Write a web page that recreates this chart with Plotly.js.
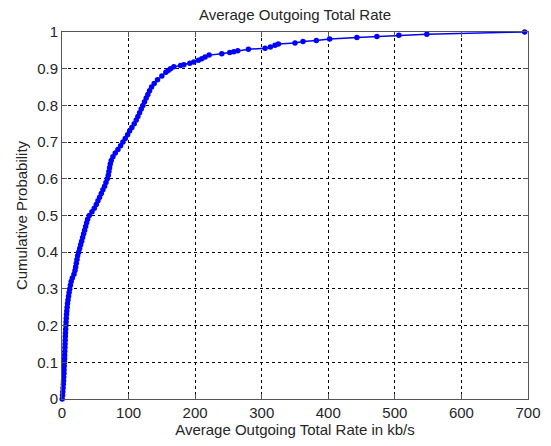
<!DOCTYPE html>
<html>
<head>
<meta charset="utf-8">
<script src="https://cdn.plot.ly/plotly-3.0.1.min.js"></script>
<style>html,body{margin:0;padding:0;background:#fff;}#chart{width:551px;height:446px;}</style>
</head>
<body>
<div id="chart"></div>
<script>
// Average outgoing total rate (kb/s)
const rateKbps = [
  0.3, 0.8, 1.2, 1.6, 2.0, 2.3, 2.6, 2.9, 3.1, 3.3,
  3.6, 3.8, 4.0, 4.2, 4.4, 4.6, 4.8, 5.0, 5.2, 5.5,
  5.8, 6.1, 6.4, 6.8, 7.2, 7.7, 8.3, 9.0, 9.8, 10.7,
  11.6, 12.6, 13.8, 15.5, 18.0, 19.5, 20.5, 21.5, 22.5, 23.5,
  25.0, 26.5, 28.0, 29.5, 31.0, 32.5, 34.0, 35.5, 37.0, 38.5,
  41.0, 45.0, 48.5, 51.5, 54.0, 56.5, 59.0, 61.5, 64.0, 66.0,
  68.0, 69.5, 70.5, 71.5, 72.5, 74.0, 76.5, 80.0, 84.0, 88.0,
  91.5, 95.0, 98.5, 101.5, 105.0, 108.5, 111.5, 114.0, 116.5, 119.0,
  121.5, 124.0, 126.5, 129.0, 131.5, 134.5, 138.5, 143.5, 150.0, 156.0,
  159.5, 163.0,
  168, 178, 183, 192, 198, 205, 210, 215, 221,
  240, 252, 258, 264, 280, 305, 313, 320, 325,
  350, 362, 382, 402, 443, 473, 506, 548, 695
];
// Cumulative probability for each rate
const cumProb = [
  0.00, 0.01, 0.02, 0.03, 0.04, 0.05, 0.06, 0.07, 0.08, 0.09,
  0.10, 0.11, 0.12, 0.13, 0.14, 0.15, 0.16, 0.17, 0.18, 0.19,
  0.20, 0.21, 0.22, 0.23, 0.24, 0.25, 0.26, 0.27, 0.28, 0.29,
  0.30, 0.31, 0.32, 0.33, 0.34, 0.35, 0.36, 0.37, 0.38, 0.39,
  0.40, 0.41, 0.42, 0.43, 0.44, 0.45, 0.46, 0.47, 0.48, 0.49,
  0.50, 0.51, 0.52, 0.53, 0.54, 0.55, 0.56, 0.57, 0.58, 0.59,
  0.60, 0.61, 0.62, 0.63, 0.64, 0.65, 0.66, 0.67, 0.68, 0.69,
  0.70, 0.71, 0.72, 0.73, 0.74, 0.75, 0.76, 0.77, 0.78, 0.79,
  0.80, 0.81, 0.82, 0.83, 0.84, 0.85, 0.86, 0.87, 0.88, 0.89,
  0.895, 0.90,
  0.905, 0.909, 0.911, 0.915, 0.918, 0.923, 0.927, 0.932, 0.937,
  0.941, 0.944, 0.946, 0.949, 0.953, 0.956, 0.959, 0.964, 0.967,
  0.970, 0.974, 0.977, 0.981, 0.985, 0.988, 0.991, 0.994, 1.0
];
const xTicks = [0, 100, 200, 300, 400, 500, 600, 700];
const yTicks = [0, 0.1, 0.2, 0.3, 0.4, 0.5, 0.6, 0.7, 0.8, 0.9, 1];
const yTickText = ['0', '0.1', '0.2', '0.3', '0.4', '0.5', '0.6', '0.7', '0.8', '0.9', '1'];

const font = {family: 'Liberation Sans, Arial, sans-serif', size: 15, color: '#262626'};
const axisCommon = {
  showline: true, linecolor: '#555', linewidth: 1, mirror: 'ticks',
  ticks: 'inside', ticklen: 5, tickcolor: '#555', tickwidth: 1,
  showgrid: true, gridcolor: '#000', gridwidth: 1, griddash: '3px,3px',
  zeroline: false, tickfont: font
};

Plotly.newPlot('chart', [{
  x: rateKbps, y: cumProb, type: 'scatter', mode: 'lines+markers',
  line: {color: '#0000ff', width: 1.5},
  marker: {color: '#0000ff', size: 5.5, symbol: 'circle'},
  cliponaxis: false, hoverinfo: 'none'
}], {
  width: 551, height: 446,
  paper_bgcolor: '#fff', plot_bgcolor: '#fff',
  margin: {l: 62, r: 23, t: 32, b: 47},
  showlegend: false,
  font: font,
  title: {text: 'Average Outgoing Total Rate', font: font, x: 0.5, xref: 'paper', xanchor: 'center', y: 0.968, yanchor: 'middle'},
  xaxis: Object.assign({}, axisCommon, {
    range: [0, 700], tickvals: xTicks, ticktext: xTicks.map(String),
    title: {text: 'Average Outgoing Total Rate in kb/s', font: font, standoff: 1}
  }),
  yaxis: Object.assign({}, axisCommon, {
    range: [0, 1], tickvals: yTicks, ticktext: yTickText,
    title: {text: 'Cumulative Probability', font: font, standoff: 5}
  })
}, {staticPlot: true});
</script>
</body>
</html>
